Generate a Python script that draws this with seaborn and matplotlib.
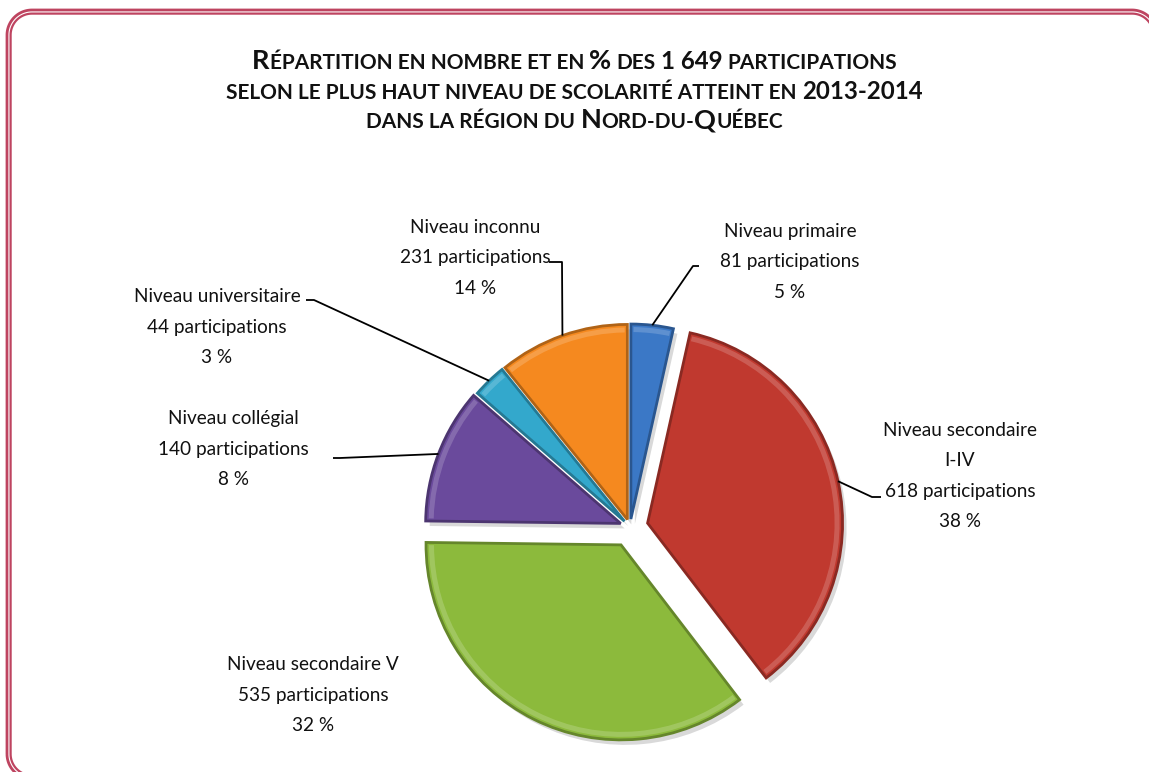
import matplotlib
matplotlib.use("Agg")
import matplotlib.pyplot as plt
import matplotlib.colors as mcolors
import numpy as np
import seaborn as sns
from matplotlib.patches import Wedge

W, H = 1149, 772

# --- data -------------------------------------------------------------
categories = ["Niveau primaire", "Niveau secondaire\nI-IV", "Niveau secondaire V",
              "Niveau collégial", "Niveau universitaire", "Niveau inconnu"]
participations = [81, 618, 535, 140, 44, 231]
percent_labels = [5, 38, 32, 8, 3, 14]
# slice sizes as drawn in the original (%), they don't follow the counts exactly
drawn_share = [3.5, 36.1, 35.6, 11.2, 2.8, 10.8]
colors = ["#3B78C6", "#C0392F", "#8CBA3C", "#6A4A9C", "#33A8CC", "#F5891F"]

# title pieces: (text, size factor, space after) -> fake small caps
title_lines = [
    [("R", 1.3, False), ("ÉPARTITION EN NOMBRE ET EN", 1, True), ("%", 1.3, True),
     ("DES", 1, True), ("1 649", 1.15, True), ("PARTICIPATIONS", 1, False)],
    [("SELON LE PLUS HAUT NIVEAU DE SCOLARITÉ ATTEINT EN", 1, True), ("2013-2014", 1.15, False)],
    [("DANS LA RÉGION DU", 1, True), ("N", 1.3, False), ("ORD-DU-", 1, False),
     ("Q", 1.3, False), ("UÉBEC", 1, False)],
]

# --- layout (pixels from top-left) -------------------------------------
PIE_CENTER = (630, 527)
PIE_R = 195
explode_px = [8, 18, 20, 10, 8, 8]
label_pos = [(790, 262), (960, 476), (313, 695), (233, 449), (217, 327), (475, 258)]
leaders = [((693, 266), (699, 266)), ((872, 497), (881, 497)), None,
           ((340, 458), (333, 458)), ((314, 300), (306, 300)), ((562, 262), (549, 262))]
title_base = [69, 99, 128]


def Y(py):
    return H - py


def darker(c, f=0.72):
    r, g, b = mcolors.to_rgb(c)
    return (r * f, g * f, b * f)


sns.set_theme(style="white")
plt.rcParams["font.family"] = ["Lato", "DejaVu Sans"]

fig = plt.figure(figsize=(W / 100, H / 100), dpi=100)
fig.patch.set_facecolor("white")
ax = fig.add_axes([0, 0, 1, 1])

wedges, _ = ax.pie(drawn_share, colors=colors, startangle=90, counterclock=False,
                   explode=explode_px, radius=PIE_R,
                   center=(PIE_CENTER[0], Y(PIE_CENTER[1])),
                   wedgeprops=dict(linewidth=2.0), frame=True)

for w, c in zip(wedges, colors):
    w.set_edgecolor(darker(c))
    w.set_zorder(2)
    sh = Wedge((w.center[0] + 4, w.center[1] - 5), w.r, w.theta1, w.theta2,
               facecolor="black", edgecolor="none", alpha=0.15, zorder=1)
    ax.add_patch(sh)
    # faint bevel highlight just inside the rim
    hl = Wedge(w.center, w.r - 3, w.theta1 + 0.8, w.theta2 - 0.8, width=5,
               facecolor="white", edgecolor="none", alpha=0.18, zorder=3)
    ax.add_patch(hl)

ax.set_xlim(0, W)
ax.set_ylim(0, H)
ax.set_aspect("equal")
ax.axis("off")

# labels and leader lines
for w, cat, n, p, (lx, ly), ld in zip(wedges, categories, participations,
                                       percent_labels, label_pos, leaders):
    ax.text(lx, Y(ly), f"{cat}\n{n} participations\n{p} %", ha="center", va="center",
            multialignment="center", fontsize=13.7, linespacing=1.95, color="#111111", zorder=5)
    if ld is None:
        continue
    mid = np.deg2rad((w.theta1 + w.theta2) / 2)
    ax0 = w.center[0] + w.r * np.cos(mid)
    ay0 = w.center[1] + w.r * np.sin(mid)
    (ex, ey), (sx, sy) = ld
    ax.plot([ax0, ex, sx], [ay0, Y(ey), Y(sy)], color="black", lw=1.3, zorder=4,
            solid_capstyle="butt")

# title in small caps
SMALL = 15.0
renderer = fig.canvas.get_renderer()
tmp1 = ax.text(0, 0, "A A", fontsize=SMALL, fontweight="bold")
tmp2 = ax.text(0, 0, "AA", fontsize=SMALL, fontweight="bold")
gap = tmp1.get_window_extent(renderer).width - tmp2.get_window_extent(renderer).width
tmp1.remove()
tmp2.remove()

for parts, base in zip(title_lines, title_base):
    arts = [ax.text(0, Y(base), t, fontsize=SMALL * f, fontweight="bold",
                    ha="left", va="baseline", color="#111111") for t, f, _ in parts]
    widths = [a.get_window_extent(renderer).width for a in arts]
    total = sum(widths) + gap * sum(1 for _, _, sp in parts if sp)
    x = W / 2 - total / 2
    for a, wd, (_, _, sp) in zip(arts, widths, parts):
        a.set_x(x)
        x += wd + (gap if sp else 0)


# double rounded border: open outline, right and bottom sides run off the picture
def border_line(left, top, right, bottom, r):
    t = np.linspace(0, np.pi / 2, 30)
    xs, ys = [left], [bottom - r]
    # top-left corner
    xs += list(left + r - r * np.cos(t)); ys += list(top + r - r * np.sin(t))
    # top-right corner
    xs += list(right - r + r * np.sin(t)); ys += list(top + r - r * np.cos(t))
    xs += [right]; ys += [bottom - r]
    # bottom-left corner
    xs2 = list(left + r - r * np.cos(t)); ys2 = list(bottom - r + r * np.sin(t))
    return (xs, ys), (xs2, ys2)


for inset, lw in [(0, 2.0), (3.6, 1.6)]:
    parts = border_line(7 + inset, 10 + inset, 1157 - inset, 779 - inset, 25 - inset)
    for xs, ys in parts:
        ax.plot(xs, [Y(v) for v in ys], color="#BE4460", lw=lw, zorder=6,
                solid_capstyle="butt")

fig.savefig("out.png", dpi=100, facecolor="white")
